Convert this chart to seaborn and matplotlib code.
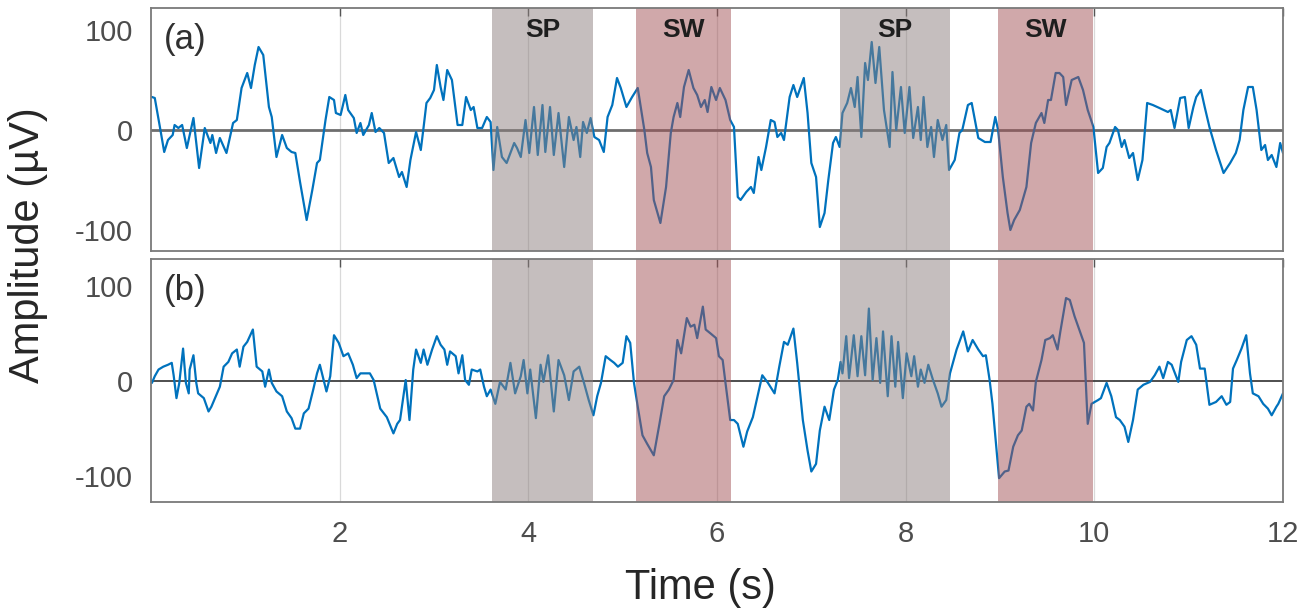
import numpy as np
import pandas as pd
import matplotlib
matplotlib.use("Agg")
import matplotlib.pyplot as plt
import seaborn as sns

# EEG traces: time (s) and amplitude (uV)
t_a = [0.01, 0.04, 0.10, 0.14, 0.18, 0.23, 0.25, 0.29, 0.33, 0.38, 0.45, 0.51, 0.57, 0.63, 0.65, 0.69,
       0.73, 0.80, 0.87, 0.91, 0.96, 1.02, 1.06, 1.10, 1.14, 1.19, 1.25, 1.28, 1.33, 1.39, 1.44, 1.49,
       1.53, 1.58, 1.65, 1.71, 1.76, 1.79, 1.85, 1.89, 1.94, 1.96, 2.01, 2.06, 2.09, 2.15, 2.18, 2.22,
       2.25, 2.31, 2.34, 2.38, 2.42, 2.47, 2.52, 2.57, 2.63, 2.66, 2.71, 2.75, 2.81, 2.86, 2.89, 2.92,
       2.96, 3.00, 3.03, 3.07, 3.10, 3.14, 3.19, 3.25, 3.30, 3.34, 3.39, 3.42, 3.46, 3.51, 3.56, 3.60,
       3.63, 3.67, 3.72, 3.77, 3.81, 3.85, 3.88, 3.92, 3.97, 4.01, 4.06, 4.10, 4.15, 4.18, 4.23, 4.27,
       4.32, 4.38, 4.43, 4.48, 4.51, 4.55, 4.58, 4.62, 4.66, 4.70, 4.75, 4.80, 4.84, 4.89, 4.94, 4.98,
       5.04, 5.10, 5.16, 5.23, 5.26, 5.30, 5.33, 5.40, 5.46, 5.51, 5.54, 5.58, 5.61, 5.65, 5.70, 5.75,
       5.79, 5.83, 5.87, 5.90, 5.94, 5.99, 6.03, 6.09, 6.14, 6.18, 6.22, 6.25, 6.31, 6.36, 6.39, 6.44,
       6.47, 6.52, 6.57, 6.61, 6.64, 6.68, 6.71, 6.77, 6.81, 6.85, 6.92, 6.96, 7.00, 7.05, 7.09, 7.14,
       7.18, 7.23, 7.26, 7.30, 7.33, 7.38, 7.42, 7.46, 7.49, 7.53, 7.57, 7.60, 7.64, 7.68, 7.72, 7.77,
       7.83, 7.86, 7.90, 7.95, 7.99, 8.04, 8.08, 8.13, 8.16, 8.19, 8.23, 8.27, 8.30, 8.34, 8.39, 8.43,
       8.46, 8.52, 8.57, 8.60, 8.66, 8.70, 8.74, 8.77, 8.84, 8.90, 8.95, 8.98, 9.03, 9.08, 9.11, 9.15,
       9.21, 9.28, 9.33, 9.38, 9.44, 9.47, 9.51, 9.54, 9.59, 9.63, 9.67, 9.70, 9.76, 9.83, 9.88, 9.93,
       9.99, 10.04, 10.09, 10.13, 10.16, 10.22, 10.25, 10.29, 10.32, 10.37, 10.41, 10.46, 10.51, 10.56,
       10.62, 10.69, 10.78, 10.81, 10.85, 10.91, 10.96, 11.00, 11.05, 11.08, 11.13, 11.17, 11.22, 11.29,
       11.37, 11.44, 11.50, 11.54, 11.58, 11.63, 11.68, 11.72, 11.77, 11.81, 11.84, 11.88, 11.93, 11.97,
       12.00]
amp_a = [33, 32, 0, -22, -10, -5, 5, 2, 5, -18, 12, -38, 2, -13, -5, -23,
         -8, -23, 7, 10, 42, 57, 42, 65, 83, 75, 23, 13, -27, -5, -18, -22,
         -23, -52, -90, -60, -33, -30, 10, 33, 30, 17, 15, 35, 20, 12, -3, 7,
         -5, 5, 17, -2, 2, -3, -33, -28, -47, -42, -57, -30, -2, -20, 3, 27,
         32, 40, 65, 43, 30, 60, 50, 5, 5, 33, 20, 23, 2, 2, 13, 8,
         -40, 3, -27, -33, -23, -13, -18, -27, 10, -23, 23, -25, 25, -22, 23, -25,
         17, -37, 13, -10, 3, -27, 8, -3, 12, -7, -10, -22, 13, 25, 52, 42,
         23, 33, 42, 0, -23, -37, -70, -93, -57, -3, 13, 27, 13, 43, 60, 42,
         35, 23, 30, 18, 43, 30, 42, 30, 10, 3, -67, -70, -62, -57, -63, -27,
         -40, -17, 10, 8, -7, -3, -10, 33, 45, 33, 52, 17, -33, -47, -97, -83,
         -50, -13, -7, -17, 17, 27, 42, 23, 53, -7, 67, 50, 88, 47, 83, 20,
         -17, 58, 0, 43, -3, 43, -8, 23, -10, 33, -17, 3, -27, 10, -10, 5,
         -40, -30, -3, 0, 25, 27, 7, -8, -12, -12, 13, 0, -47, -83, -100, -90,
         -80, -57, -13, 7, 17, 7, 30, 30, 57, 57, 53, 25, 50, 53, 40, 20,
         3, -43, -38, -17, -13, 3, 0, -17, -10, -28, -23, -50, -30, 27,
         25, 22, 18, 20, 2, 32, 33, 2, 23, 33, 40, 23, 3, -20,
         -43, -33, -23, -10, 20, 43, 43, 20, -20, -15, -30, -25, -37, -13,
         -23]

t_b = [0.01, 0.04, 0.08, 0.13, 0.18, 0.22, 0.24, 0.27, 0.30, 0.34, 0.37, 0.40, 0.41, 0.45, 0.48, 0.50,
       0.56, 0.61, 0.64, 0.70, 0.73, 0.77, 0.82, 0.86, 0.91, 0.94, 0.98, 1.02, 1.08, 1.12, 1.18, 1.21,
       1.25, 1.28, 1.33, 1.39, 1.44, 1.49, 1.53, 1.58, 1.62, 1.67, 1.72, 1.76, 1.79, 1.82, 1.86, 1.90,
       1.94, 1.99, 2.04, 2.09, 2.14, 2.18, 2.22, 2.27, 2.32, 2.36, 2.40, 2.43, 2.50, 2.57, 2.61, 2.64,
       2.70, 2.74, 2.78, 2.81, 2.86, 2.89, 2.93, 2.98, 3.03, 3.07, 3.11, 3.14, 3.17, 3.23, 3.26, 3.30,
       3.33, 3.37, 3.40, 3.46, 3.49, 3.53, 3.56, 3.60, 3.65, 3.70, 3.76, 3.81, 3.86, 3.92, 3.95, 3.99,
       4.02, 4.08, 4.13, 4.16, 4.21, 4.27, 4.32, 4.38, 4.43, 4.48, 4.54, 4.59, 4.64, 4.69, 4.73, 4.77,
       4.82, 4.87, 4.91, 4.95, 5.00, 5.04, 5.08, 5.12, 5.16, 5.21, 5.26, 5.33, 5.39, 5.44, 5.49, 5.54,
       5.58, 5.62, 5.68, 5.72, 5.76, 5.79, 5.85, 5.88, 5.93, 5.99, 6.02, 6.06, 6.09, 6.14, 6.18, 6.22,
       6.28, 6.32, 6.38, 6.43, 6.48, 6.54, 6.61, 6.66, 6.71, 6.75, 6.81, 6.85, 6.91, 6.96, 7.00, 7.05,
       7.09, 7.14, 7.19, 7.24, 7.28, 7.31, 7.33, 7.37, 7.40, 7.45, 7.49, 7.53, 7.57, 7.61, 7.65, 7.69,
       7.73, 7.76, 7.81, 7.85, 7.89, 7.92, 7.97, 8.01, 8.06, 8.09, 8.13, 8.16, 8.20, 8.24, 8.29, 8.34,
       8.38, 8.43, 8.47, 8.54, 8.61, 8.66, 8.71, 8.77, 8.82, 8.85, 8.89, 8.92, 8.96, 8.99, 9.05, 9.09,
       9.14, 9.19, 9.23, 9.28, 9.31, 9.35, 9.38, 9.44, 9.48, 9.53, 9.56, 9.61, 9.64, 9.70, 9.74, 9.79,
       9.84, 9.89, 9.93, 9.97, 10.04, 10.07, 10.13, 10.18, 10.23, 10.27, 10.32, 10.36, 10.41, 10.46,
       10.52, 10.59, 10.64, 10.69, 10.73, 10.78, 10.82, 10.89, 10.92, 10.98, 11.03, 11.08, 11.12, 11.17,
       11.22, 11.29, 11.35, 11.40, 11.44, 11.47, 11.51, 11.56, 11.61, 11.65, 11.68, 11.74, 11.79, 11.84,
       11.88, 11.93, 11.95, 12.00]
amp_b = [-2, 5, 12, 15, 17, 19, 6, -18, -2, 34, -2, -13, 12, 27, -2, -13,
         -18, -32, -27, -13, -6, 15, 20, 29, 33, 15, 36, 41, 54, 15, 10, -6,
         12, -2, -11, -16, -32, -39, -50, -50, -34, -29, -9, 8, 17, 5, -11, 5,
         48, 40, 26, 29, 17, 3, 8, 8, 8, 1, -16, -29, -38, -55, -45, -41,
         1, -41, 12, 33, 19, 33, 17, 33, 47, 38, 33, 17, 31, 26, 8, 27,
         1, -4, 12, 10, 12, -6, -16, -9, -24, -1, -9, 19, -13, 5, 22, -13,
         12, -39, 17, -1, 27, -32, 22, 6, -20, 10, 15, -2, -20, -36, -16, -2,
         26, 22, 19, 15, 19, 47, 40, -2, -27, -57, -66, -78, -45, -16, -9, 1,
         43, 29, 66, 57, 59, 45, 78, 54, 50, 45, 26, 22, -2, -41, -41, -45,
         -69, -53, -38, -16, 6, -2, -13, 15, 41, 38, 55, 19, -41, -73, -95, -87,
         -52, -27, -41, -9, 1, 20, 8, 47, 3, 48, 5, 47, 6, 76, 1, 45,
         -2, 52, -16, 47, -6, 41, -18, 29, 5, 26, -6, 12, -2, 17, 1, -13,
         -27, -20, 8, 33, 52, 31, 43, 33, 26, 27, 1, -24, -69, -102, -95, -94,
         -69, -57, -52, -27, -24, -31, -1, 22, 43, 45, 48, 33, 52, 87, 85, 68,
         54, 40, -45, -24, -20, -18, -2, -16, -38, -41, -48, -64, -41, -9,
         -4, -1, 6, 15, 3, 20, 17, -1, 20, 43, 47, 38, 13, 13,
         -25, -22, -16, -25, -22, 13, 22, 34, 48, 8, -13, -16, -24, -29,
         -36, -27, -24, -13]

# annotated events: (start, end, label)
events = [(3.62, 4.69, "SP"), (5.14, 6.15, "SW"), (7.30, 8.47, "SP"), (8.98, 9.99, "SW")]
event_colors = {"SP": "#8c7f7e", "SW": "#a25256"}

xticks = [2, 4, 6, 8, 10, 12]
yticks = [-100, 0, 100]

df = pd.concat([
    pd.DataFrame({"time": t_a, "amp": amp_a, "panel": "(a)"}),
    pd.DataFrame({"time": t_b, "amp": amp_b, "panel": "(b)"}),
])

sns.set_theme(style="white")
plt.rcParams["font.family"] = ["Liberation Sans", "DejaVu Sans"]
plt.rcParams["axes.unicode_minus"] = False

W, H = 1304, 610
fig = plt.figure(figsize=(W / 100, H / 100), dpi=100)
ax1 = fig.add_axes([151 / W, 1 - 251 / H, 1132 / W, 243 / H])
ax2 = fig.add_axes([151 / W, 1 - 502 / H, 1132 / W, 243 / H])

ylims = {"(a)": (-121, 122), "(b)": (-127, 128)}
zero_style = {"(a)": dict(color="#6e6e6e", lw=2.0), "(b)": dict(color="#303030", lw=1.2)}

for ax, panel in zip([ax1, ax2], ["(a)", "(b)"]):
    sub = df[df["panel"] == panel]
    sns.lineplot(data=sub, x="time", y="amp", ax=ax, color="#0072BD", lw=1.6,
                 estimator=None, sort=False, zorder=3)
    ax.axhline(0, zorder=2, **zero_style[panel])
    for x0, x1, lab in events:
        ax.axvspan(x0, x1, color=event_colors[lab], alpha=0.5, lw=0, zorder=4)
        if panel == "(a)":
            ax.text((x0 + x1) / 2, 100, lab, ha="center", va="center", fontsize=19,
                    fontweight="bold", color="#1e1e1e", zorder=5)
    ax.set_xlim(0, 12)
    ax.set_ylim(*ylims[panel])
    ax.set_xticks(xticks)
    ax.set_yticks(yticks)
    ax.grid(axis="x", color="#d9d9d9", lw=0.9)
    ax.set_axisbelow(True)
    ax.tick_params(direction="in", length=6, width=1, color="#555555", top=True, right=False,
                   labelsize=21, labelcolor="#4d4d4d", pad=13)
    for sp in ax.spines.values():
        sp.set_color("#7a7a7a")
        sp.set_linewidth(1.3)
        sp.set_zorder(6)
    ax.set_xlabel("")
    ax.set_ylabel("")
    ax.text(0.011, 0.87, panel, transform=ax.transAxes, fontsize=25, color="#303030",
            ha="left", va="center", zorder=5)

ax1.tick_params(labelbottom=False)

fig.text(28 / W, 1 - 245 / H, "Amplitude (µV)", rotation=90, ha="center", va="center",
         fontsize=30, color="#262626")
fig.text(700 / W, 1 - 588 / H, "Time (s)", ha="center", va="center",
         fontsize=30, color="#262626")

fig.savefig("out.png", dpi=100)
